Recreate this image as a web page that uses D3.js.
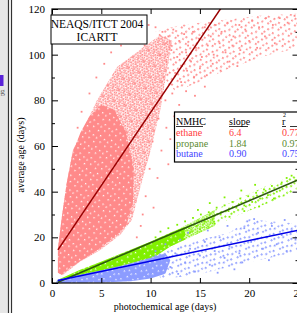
<!DOCTYPE html>
<html>
<head>
<meta charset="utf-8">
<script src="https://cdn.jsdelivr.net/npm/d3@7"></script>
<style>
  body { margin: 0; background: #fff; }
  svg { display: block; font-family: "Liberation Serif", "Times New Roman", serif; }
</style>
</head>
<body>
<script>
// axis ticks
var xTicks = [0, 5, 10, 15, 20, 25];
var yTicks = [0, 20, 40, 60, 80, 100, 120];
var yMinor = [10, 30, 50, 70, 90, 110];

// fit table
var species = ["ethane", "propane", "butane"];
var slopes = [6.4, 1.84, 0.90];
var intercepts = [10.7, -0.8, 0.6];
var r2 = [0.77, 0.97, 0.75];
var fitStart = [0.6, 0.6, 0.6];
var titleLines = ["NEAQS/ITCT 2004", "ICARTT"];

// outlines of the point clouds (data units)
// core = nearly solid, mid = dense, thin = scattered
var ethaneMid = [[0.6,4.5],[0.6,15],[1.0,29],[1.5,44],[2.1,58],[3.35,69],[4.56,80],[6.6,94.6],[9.2,103],[11,108.6],
  [12.2,106],[12,102],[11.5,89],[11,76],[10,58],[8.9,41],[8.1,27.6],[6.9,21],[4.9,14.5],[2.8,9.2],[1.1,3.5]];
var ethaneCore = [[0.6,4.5],[0.6,15],[1.0,29],[1.5,44],[2.1,57],[2.9,66],[3.8,73],[5,78],[6.3,76],[7.5,66],
  [8.3,50],[8.2,35],[7.5,25],[6.6,21],[5,15.5],[3.2,10.5],[1.8,6.5],[1.0,3.5]];
var ethaneThin = [[10.5,110],[13,113],[17,115],[21,117],[25,118],[25,103],[22,100],[18,94],[15,88],[12.5,84],
  [11.5,89],[12,102]];
var propaneCore = [[0.5,1.2],[2.8,5.7],[4.9,9.2],[7.4,13.6],[9.9,18],[12,22],[13.5,24.5],[13.5,19],[12,16],
  [9.9,10],[7.4,6.5],[4.9,4],[2.8,2],[0.5,0.6]];
var propaneMid = [[10,18],[13,24],[16.5,32],[16.5,25],[13,18],[10,12]];
var propaneThin = [[16,31],[19,37],[22,43],[24.8,47.5],[24.8,40],[22,35],[19,30],[16,24]];
var butaneCore = [[0.4,0.3],[0.6,1.5],[2.8,3.6],[4.9,5.5],[7.4,8],[9.9,11],[11.5,13],[12,10],[11.5,4],[10,2],
  [8,0.8],[5,0.2],[0.5,0]];
var butaneThin = [[10,13],[14,18],[18,22],[20,28],[22,27],[25,26],[25,14],[21,10],[17,6],[14,3],[11,2]];

// scattered points outside the clouds
var ethanePts = [[10.5,112],[11.2,110],[11.8,108],[12.3,111],[12.9,106],[13.4,109],[13.8,104],[14.3,110],[14.9,107],
  [15.5,112],[16.1,108],[16.6,113],[17.2,110],[17.8,114],[18.4,108],[19.0,113],[19.6,111],[20.3,115],[21.0,112],
  [21.7,116],[22.4,113],[23.1,116],[23.9,114],[24.6,117],[11.0,100],[11.6,97],[12.1,102],[12.7,99],[13.2,95],
  [13.6,101],[14.1,97],[14.6,103],[15.2,99],[15.8,104],[16.4,100],[17.0,105],[17.6,101],[18.3,104],[19.1,102],
  [20.0,106],[20.8,103],[21.6,108],[22.6,105],[11.3,90],[11.9,87],[12.5,92],[13.1,88],[13.7,93],[14.4,90],
  [15.0,94],[15.7,91],[16.3,96],[17.1,93],[18.0,97],[18.8,95],[11.5,80],[12.2,83],[12.9,78],[13.6,84],[14.5,82],
  [15.5,86],[10.8,72],[11.6,68],[12.4,73],[13.3,70],[10.2,62],[11.1,58],[12.0,63],[9.9,50],[10.7,46],[9.5,38],
  [10.3,33],[9.2,30],[11.8,52],[13.0,60],[8.6,20],[9.0,25],[3.0,75],[3.8,83],[4.5,90],[5.3,96],[6.0,101],
  [7.0,104],[8.0,107],[9.0,110],[9.8,113],[2.6,68],[9.4,104]];
var propanePts = [[10.5,20],[11,22.5],[11.4,19],[11.8,24],[12.3,21],[12.7,25.5],[13.1,22.5],[13.5,27],[13.9,24],
  [14.3,28.5],[14.7,25],[15.1,30],[15.5,27],[15.9,31],[16.3,28],[16.7,33],[17.1,30],[17.5,34],[17.9,31.5],
  [18.3,35.5],[18.7,33],[19.1,37],[19.5,34],[19.9,38],[20.3,35.5],[20.7,39.5],[21.1,37],[21.5,41],[21.9,38.5],
  [22.3,42.5],[22.8,40],[23.3,44],[23.8,46],[24.3,47],[24.7,45],[12,18.5],[13,20],[14,22],[15,23.5],[16.5,26],
  [18,29],[19.5,31.5],[21,33.5],[22.5,37],[14.8,32],[16,35],[17.5,37.5],[19.2,40.5],[20.6,43]];
var butanePts = [[10.5,14],[11,10],[11.5,17],[12,7],[12.5,13],[13,19],[13.5,9],[14,15],[14.5,5],[15,12],[15.5,18],
  [16,8],[16.5,14],[17,20],[17.5,11],[18,16],[18.5,6],[19,13],[19.5,24],[19.8,27],[20.2,18],[20.5,28],[20.9,22],
  [21.3,15],[21.8,20],[22.3,25],[22.8,17],[23.3,21],[23.8,14],[24.3,23],[24.7,19],[13.8,22],[15.8,23],[17.8,25],
  [12.8,4],[16.8,4.5],[19.3,9],[22,10],[23.6,27.6]];

var ptColor = ["#ff8a8a", "#80f000", "#8c9cff"];
var lineColor = ["#990000", "#2f5a10", "#0000e8"];
var textColor = ["#ff3c3c", "#5b8a30", "#4444ff"];

var width = 297, height = 313;
var x = d3.scaleLinear().domain([0, 25]).range([52, 298.5]);
var y = d3.scaleLinear().domain([0, 120]).range([283, 9]);

var svg = d3.select("body").append("svg")
  .attr("width", width)
  .attr("height", height);

// speckle textures so the filled clouds read like many points
var defs = svg.append("defs");
function speckle(id, color, dots, solid, angle) {
  var p = defs.append("pattern").attr("id", id)
    .attr("patternUnits", "userSpaceOnUse")
    .attr("patternTransform", "rotate(" + angle + ")")
    .attr("width", 12).attr("height", 12);
  if (solid) p.append("rect").attr("width", 12).attr("height", 12).attr("fill", color);
  dots.forEach(function(d) {
    p.append("rect").attr("x", d[0]).attr("y", d[1])
      .attr("width", solid ? 1.3 : 1.8).attr("height", solid ? 1.3 : 1.8)
      .attr("fill", solid ? "#fff" : color);
  });
}
var coreDots = [[1, 1], [6, 3], [3, 7], [9, 9], [10, 4.5]];
var midDots = [[0,0],[2.5,0.8],[5,0.2],[7.6,1],[10,0.4],[1.2,2.8],[3.8,3.2],[6.2,2.6],[8.8,3.4],[11,2.9],
  [0.2,5.4],[2.6,5.8],[5.1,5.2],[7.4,6],[9.9,5.5],[1.4,8.1],[4,8.4],[6.4,7.9],[8.7,8.6],[11.1,8],
  [0.3,10.4],[2.9,10.8],[5.4,10.2],[7.9,10.9],[10.2,10.5]];
var thinDots = [[1, 1], [7, 2.5], [4, 6], [10, 7], [2, 10], [8, 10.5]];
species.forEach(function(s, i) {
  speckle(s + "-core", ptColor[i], coreDots, true, 23 + i * 11);
  speckle(s + "-mid", ptColor[i], midDots, false, 23 + i * 11);
  speckle(s + "-thin", ptColor[i], thinDots, false, 31 + i * 7);
});

// window edge on the left
svg.append("rect").attr("x", 0).attr("y", 0).attr("width", 8).attr("height", height).attr("fill", "#e6e6e6");
svg.append("line").attr("x1", 8.5).attr("x2", 8.5).attr("y1", 0).attr("y2", height).attr("stroke", "#333").attr("stroke-width", 1.2);
svg.append("line").attr("x1", 11.5).attr("x2", 11.5).attr("y1", 0).attr("y2", height).attr("stroke", "#333").attr("stroke-width", 1.2);
svg.append("rect").attr("x", 0).attr("y", 75).attr("width", 3.5).attr("height", 11).attr("fill", "#5a22d8");
svg.append("text").attr("x", -4).attr("y", 94).attr("font-size", 9).attr("fill", "#666").text("ng");

svg.append("clipPath").attr("id", "plot")
  .append("rect").attr("x", 52).attr("y", 9).attr("width", 246.5).attr("height", 274);

var plot = svg.append("g").attr("clip-path", "url(#plot)");
var outline = d3.line().x(function(d) { return x(d[0]); }).y(function(d) { return y(d[1]); });
function cloud(pts, fill) {
  plot.append("path").attr("d", outline(pts) + "Z").attr("fill", "url(#" + fill + ")");
}

cloud(ethaneThin, "ethane-thin");
cloud(ethaneMid, "ethane-mid");
cloud(ethaneCore, "ethane-core");
cloud(propaneThin, "propane-thin");
cloud(propaneMid, "propane-mid");
cloud(propaneCore, "propane-core");
cloud(butaneThin, "butane-thin");
cloud(butaneCore, "butane-core");

[ethanePts, propanePts, butanePts].forEach(function(pts, i) {
  plot.append("g").selectAll("rect")
    .data(pts)
    .enter().append("rect")
    .attr("x", function(d) { return x(d[0]) - 0.9; })
    .attr("y", function(d) { return y(d[1]) - 0.9; })
    .attr("width", 1.8)
    .attr("height", 1.8)
    .attr("fill", ptColor[i]);
});

// fit lines
species.forEach(function(s, i) {
  var x1 = fitStart[i], x2 = 25;
  plot.append("line")
    .attr("x1", x(x1)).attr("y1", y(slopes[i] * x1 + intercepts[i]))
    .attr("x2", x(x2)).attr("y2", y(slopes[i] * x2 + intercepts[i]))
    .attr("stroke", lineColor[i])
    .attr("stroke-width", 1.5);
});

// axes, ticks pointing in
function styleAxis(g) {
  g.select(".domain").remove();
  g.selectAll("line").attr("stroke", "#000").attr("stroke-width", 1);
  g.selectAll("text").attr("font-family", "Liberation Serif, Times New Roman, serif").attr("font-size", 11).attr("fill", "#000");
}
svg.append("g").attr("transform", "translate(0,283)")
  .call(d3.axisBottom(x).tickValues(xTicks).tickSizeInner(-5).tickSizeOuter(0).tickPadding(6))
  .call(styleAxis);
svg.append("g").attr("transform", "translate(0,9)")
  .call(d3.axisTop(x).tickValues(xTicks).tickSizeInner(-5).tickSizeOuter(0).tickFormat(""))
  .call(styleAxis);
svg.append("g").attr("transform", "translate(52,0)")
  .call(d3.axisLeft(y).tickValues(yTicks).tickSizeInner(-6).tickSizeOuter(0).tickPadding(7))
  .call(styleAxis);
svg.append("g").attr("transform", "translate(52,0)")
  .call(d3.axisLeft(y).tickValues(yMinor).tickSizeInner(-3).tickSizeOuter(0).tickFormat(""))
  .call(styleAxis);
svg.append("g").attr("transform", "translate(298.5,0)")
  .call(d3.axisRight(y).tickValues(yTicks).tickSizeInner(-6).tickSizeOuter(0).tickFormat(""))
  .call(styleAxis);
svg.append("g").attr("transform", "translate(298.5,0)")
  .call(d3.axisRight(y).tickValues(yMinor).tickSizeInner(-3).tickSizeOuter(0).tickFormat(""))
  .call(styleAxis);

svg.append("rect")
  .attr("x", 52).attr("y", 9).attr("width", 246.5).attr("height", 274)
  .attr("fill", "none").attr("stroke", "#000").attr("stroke-width", 1.2);

// axis titles
svg.append("text")
  .attr("x", 165).attr("y", 310)
  .attr("text-anchor", "middle").attr("font-size", 10)
  .text("photochemical age (days)");
svg.append("text")
  .attr("transform", "translate(24,155) rotate(-90)")
  .attr("text-anchor", "middle").attr("font-size", 10)
  .text("average age (days)");

// campaign label
svg.append("rect").attr("x", 51).attr("y", 15).attr("width", 96).attr("height", 29)
  .attr("fill", "#fff").attr("stroke", "#000").attr("stroke-width", 1);
svg.selectAll(".title").data(titleLines).enter().append("text")
  .attr("x", 97).attr("y", function(d, i) { return 28 + i * 12.5; })
  .attr("text-anchor", "middle").attr("font-size", 11.5)
  .text(function(d) { return d; });

// fit table
var tb = svg.append("g");
tb.append("rect").attr("x", 174.5).attr("y", 112).attr("width", 140).attr("height", 50)
  .attr("fill", "#fff").attr("stroke", "#000").attr("stroke-width", 1.2);
var cols = [176, 229, 282];
tb.append("text").attr("x", cols[0]).attr("y", 125).attr("font-size", 10).text("NMHC");
tb.append("text").attr("x", cols[1]).attr("y", 125).attr("font-size", 10).text("slope");
tb.append("text").attr("x", cols[2]).attr("y", 125).attr("font-size", 10).text("r");
tb.append("text").attr("x", cols[2] + 1).attr("y", 117).attr("font-size", 6).text("2");
[[176, 203], [229, 248], [282, 286], [290, 300]].forEach(function(u) {
  tb.append("line").attr("x1", u[0]).attr("x2", u[1]).attr("y1", 126.5).attr("y2", 126.5)
    .attr("stroke", "#000").attr("stroke-width", 0.8);
});
species.forEach(function(s, i) {
  var row = tb.append("g").attr("fill", textColor[i]).attr("font-size", 10);
  var yy = 136 + i * 10.7;
  row.append("text").attr("x", cols[0]).attr("y", yy).text(s);
  row.append("text").attr("x", cols[1]).attr("y", yy).text(i == 0 ? slopes[i].toFixed(1) : slopes[i].toFixed(2));
  row.append("text").attr("x", cols[2]).attr("y", yy).text(r2[i].toFixed(2));
});
</script>
</body>
</html>
